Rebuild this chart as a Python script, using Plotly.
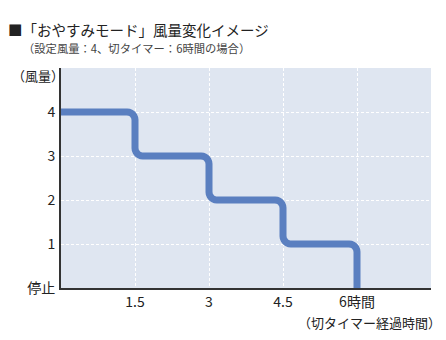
import math
import plotly.graph_objects as go

# data
times = [0, 1.5, 3, 4.5, 6]          # step change times (hours)
levels = [4, 3, 2, 1, 0]             # fan level after each change
x_ticks = [1.5, 3, 4.5, 6]
x_tick_labels = ["1.5", "3", "4.5", "6時間"]
y_ticks = [0, 1, 2, 3, 4]
y_tick_labels = ["停止", "1", "2", "3", "4"]

# rounded step path built from the data (corner radius is styling only)
PX_X = 370 / 7.5   # pixels per hour
PX_Y = 220 / 5     # pixels per level
R = 8              # corner radius in px
rx, ry = R / PX_X, R / PX_Y
N = 6
xs, ys = [times[0]], [levels[0]]
for i in range(1, len(times)):
    t, prev, cur = times[i], levels[i - 1], levels[i]
    for k in range(N + 1):
        a = math.pi / 2 - (math.pi / 2) * k / N
        xs.append(t - rx + rx * math.cos(a))
        ys.append(prev - ry + ry * math.sin(a))
    if i < len(times) - 1:
        for k in range(N + 1):
            a = math.pi - (math.pi / 2) * k / N
            xs.append(t + rx + rx * math.cos(a))
            ys.append(cur + ry - ry * math.sin(a))
    else:
        xs.append(t)
        ys.append(cur)

FONT = "Noto Sans CJK JP"
fig = go.Figure()
fig.add_trace(go.Scatter(x=xs, y=ys, mode="lines",
                         line=dict(color="#5a7fc0", width=7, simplify=False),
                         hoverinfo="skip", cliponaxis=False))

fig.update_layout(
    width=446, height=340,
    margin=dict(l=61, r=15, t=68, b=52),
    paper_bgcolor="white", plot_bgcolor="#dfe6f1",
    showlegend=False,
    font=dict(family=FONT, color="#222"),
    xaxis=dict(range=[0, 7.5], tickvals=x_ticks, ticktext=x_tick_labels,
               showgrid=True, gridcolor="white", griddash="3px,2px", gridwidth=1,
               zeroline=False, showline=True, linecolor="#333", linewidth=2,
               ticks="", tickfont=dict(size=14, family=FONT, color="#222")),
    yaxis=dict(range=[0, 5], tickvals=y_ticks, ticktext=y_tick_labels,
               showgrid=True, gridcolor="white", griddash="3px,2px", gridwidth=1,
               zeroline=False, showline=True, linecolor="#333", linewidth=2,
               ticks="", ticklabelstandoff=1, tickfont=dict(size=14, family=FONT, color="#222")),
    annotations=[
        dict(text="■「おやすみモード」風量変化イメージ", xref="paper", yref="paper",
             x=-55/370, y=1 + 38/220, xanchor="left", yanchor="middle", showarrow=False,
             font=dict(size=14.5, family=FONT, color="#222")),
        dict(text="（設定風量：4、切タイマー：6時間の場合）", xref="paper", yref="paper",
             x=-40/370, y=1 + 20/220, xanchor="left", yanchor="middle", showarrow=False,
             font=dict(size=11.3, family=FONT, color="#444")),
        dict(text="（風量）", xref="paper", yref="paper",
             x=5/370, y=1 - 7/220, xanchor="right", yanchor="middle", showarrow=False,
             font=dict(size=13, family=FONT, color="#222")),
        dict(text="（切タイマー経過時間）", xref="paper", yref="paper",
             x=1 + 12/370, y=-34/220, xanchor="right", yanchor="middle", showarrow=False,
             font=dict(size=13, family=FONT, color="#222")),
    ],
)
fig.write_html("out.html")
